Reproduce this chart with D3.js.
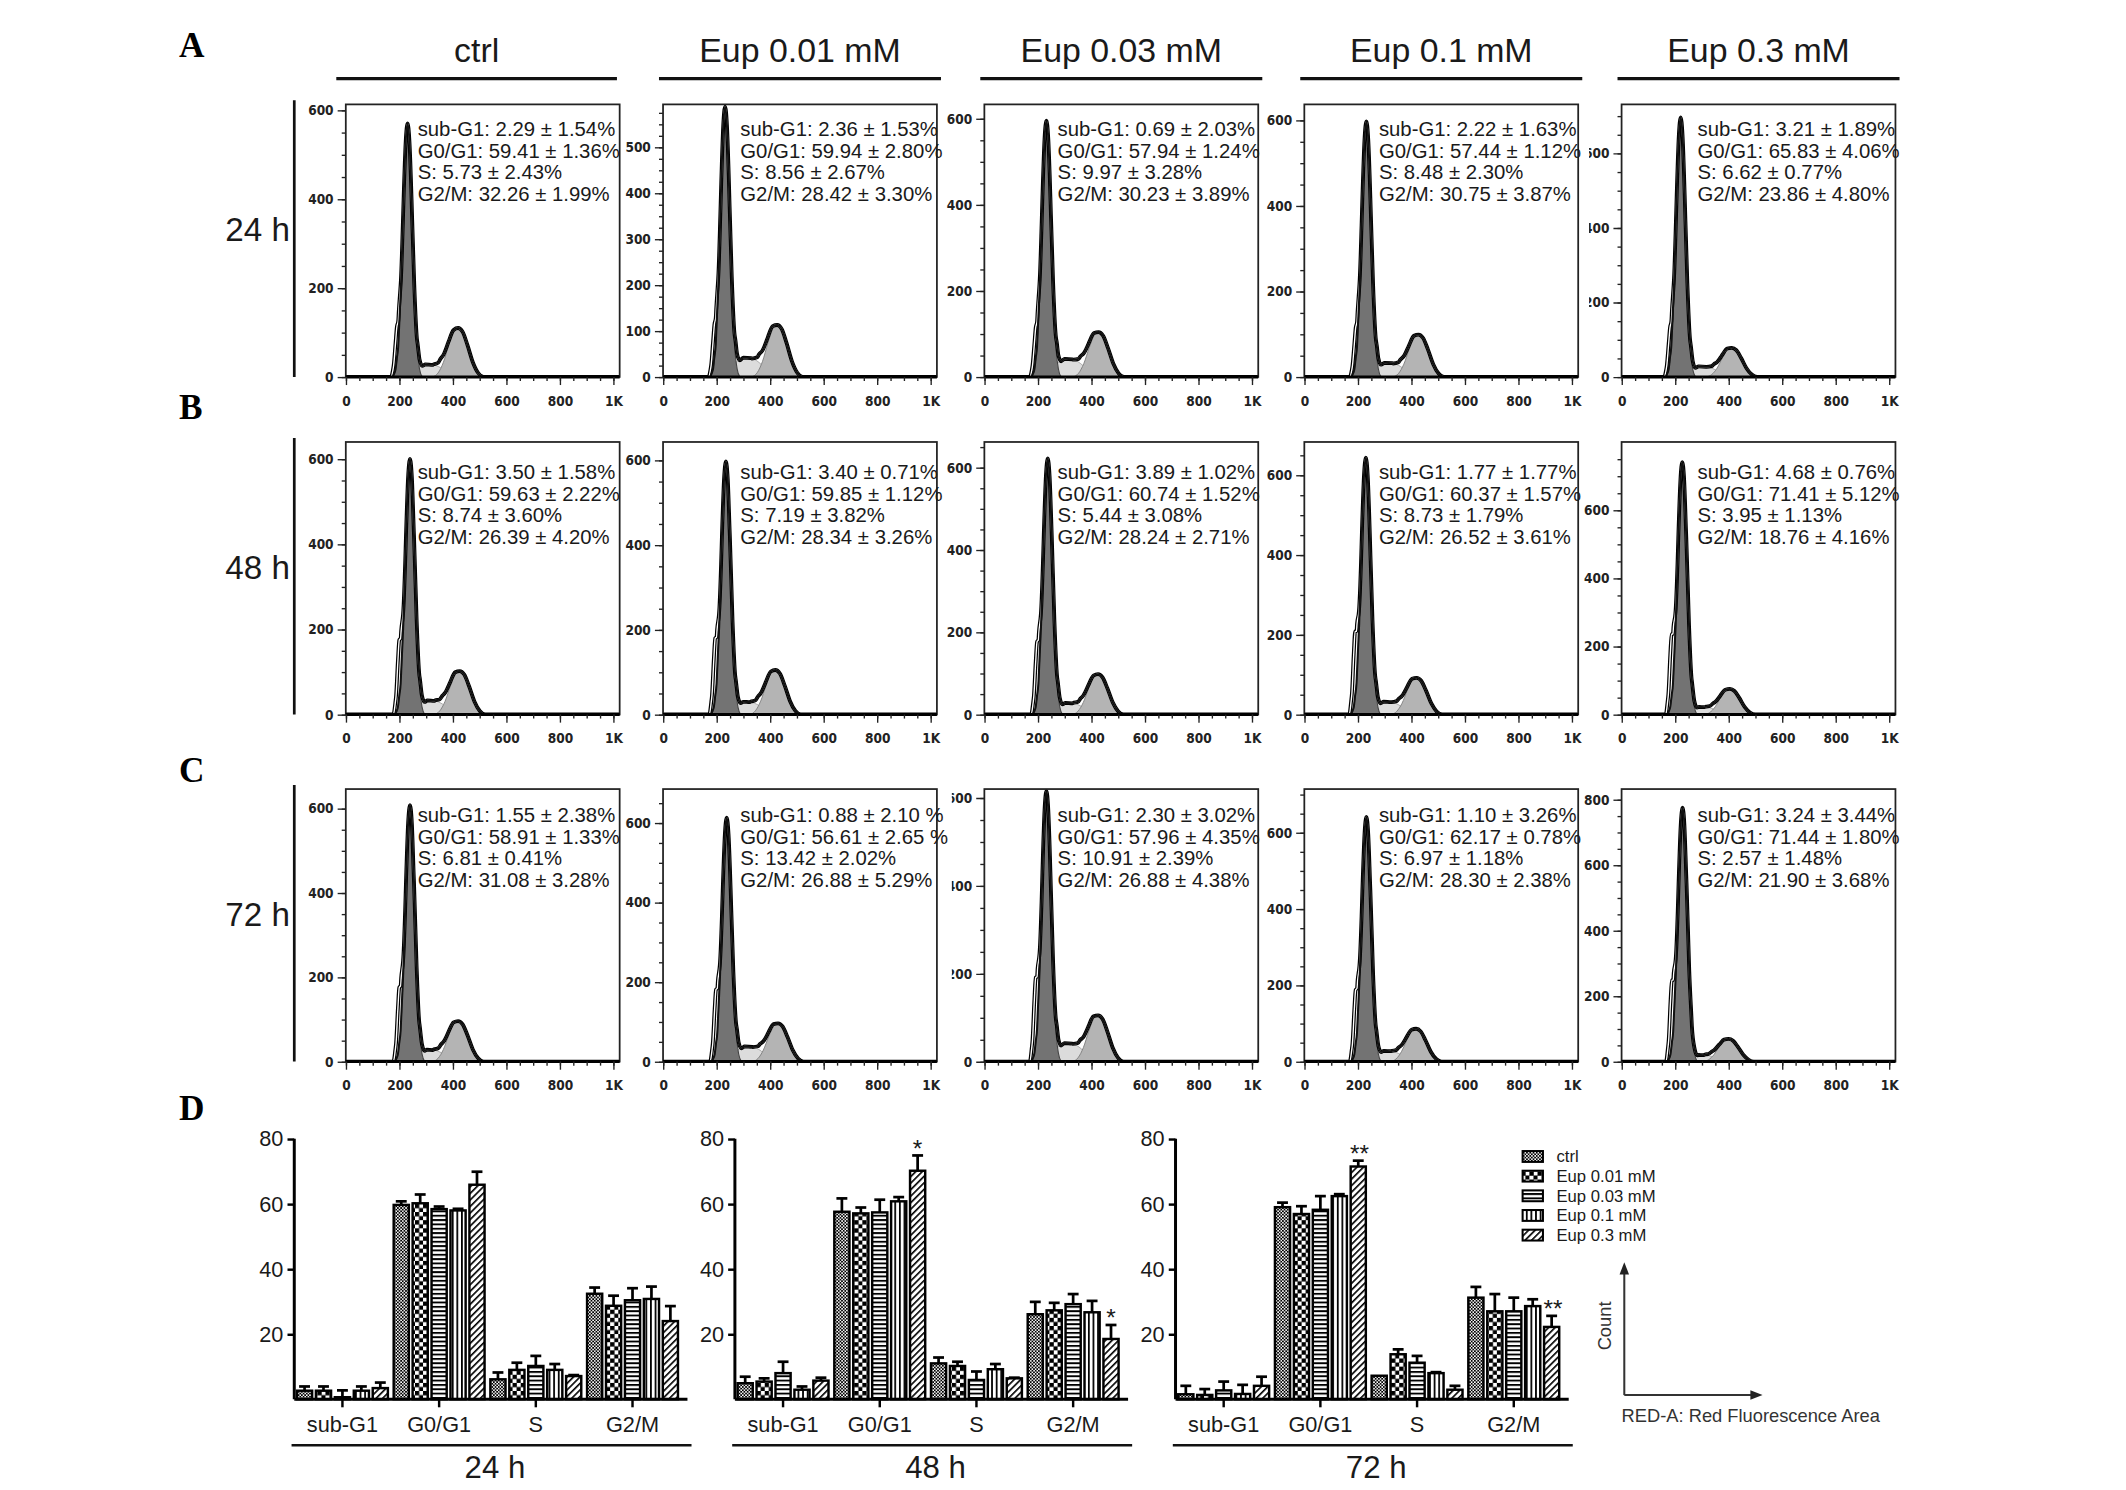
<!DOCTYPE html>
<html><head><meta charset="utf-8">
<script src="https://cdn.jsdelivr.net/npm/d3@7"></script>
<style>html,body{margin:0;padding:0;background:#fff;} svg{display:block}</style>
</head><body>
<svg id="chart" width="2126" height="1490" viewBox="0 0 1568 1099"></svg>
<script>
// ---------------- DATA ----------------
const treatments = ["ctrl", "Eup 0.01 mM", "Eup 0.03 mM", "Eup 0.1 mM", "Eup 0.3 mM"];
const times = ["24 h", "48 h", "72 h"];
const phases = ["sub-G1", "G0/G1", "S", "G2/M"];
const panelLetters = ["A", "B", "C", "D"];

// histogram annotation lines [time][treatment]
const annotations = [
  [["sub-G1: 2.29 ± 1.54%","G0/G1: 59.41 ± 1.36%","S: 5.73 ± 2.43%","G2/M: 32.26 ± 1.99%"],
   ["sub-G1: 2.36 ± 1.53%","G0/G1: 59.94 ± 2.80%","S: 8.56 ± 2.67%","G2/M: 28.42 ± 3.30%"],
   ["sub-G1: 0.69 ± 2.03%","G0/G1: 57.94 ± 1.24%","S: 9.97 ± 3.28%","G2/M: 30.23 ± 3.89%"],
   ["sub-G1: 2.22 ± 1.63%","G0/G1: 57.44 ± 1.12%","S: 8.48 ± 2.30%","G2/M: 30.75 ± 3.87%"],
   ["sub-G1: 3.21 ± 1.89%","G0/G1: 65.83 ± 4.06%","S: 6.62 ± 0.77%","G2/M: 23.86 ± 4.80%"]],
  [["sub-G1: 3.50 ± 1.58%","G0/G1: 59.63 ± 2.22%","S: 8.74 ± 3.60%","G2/M: 26.39 ± 4.20%"],
   ["sub-G1: 3.40 ± 0.71%","G0/G1: 59.85 ± 1.12%","S: 7.19 ± 3.82%","G2/M: 28.34 ± 3.26%"],
   ["sub-G1: 3.89 ± 1.02%","G0/G1: 60.74 ± 1.52%","S: 5.44 ± 3.08%","G2/M: 28.24 ± 2.71%"],
   ["sub-G1: 1.77 ± 1.77%","G0/G1: 60.37 ± 1.57%","S: 8.73 ± 1.79%","G2/M: 26.52 ± 3.61%"],
   ["sub-G1: 4.68 ± 0.76%","G0/G1: 71.41 ± 5.12%","S: 3.95 ± 1.13%","G2/M: 18.76 ± 4.16%"]],
  [["sub-G1: 1.55 ± 2.38%","G0/G1: 58.91 ± 1.33%","S: 6.81 ± 0.41%","G2/M: 31.08 ± 3.28%"],
   ["sub-G1: 0.88 ± 2.10 %","G0/G1: 56.61 ± 2.65 %","S: 13.42 ± 2.02%","G2/M: 26.88 ± 5.29%"],
   ["sub-G1: 2.30 ± 3.02%","G0/G1: 57.96 ± 4.35%","S: 10.91 ± 2.39%","G2/M: 26.88 ± 4.38%"],
   ["sub-G1: 1.10 ± 3.26%","G0/G1: 62.17 ± 0.78%","S: 6.97 ± 1.18%","G2/M: 28.30 ± 2.38%"],
   ["sub-G1: 3.24 ± 3.44%","G0/G1: 71.44 ± 1.80%","S: 2.57 ± 1.48%","G2/M: 21.90 ± 3.68%"]]
];

// histogram readings [time][treatment]
const histYMax      = [[613,593,633,637,731],[640,643,662,683,800],[646,685,620,714,832]];
const histYStep     = [[200,100,200,200,200],[200,200,200,200,200],[200,200,200,200,200]];
const g1Center      = [[231,232,232,232,221],[240,235,237,230,227],[240,238,232,232,228]];
const g1Height      = [[570,588,595,597,696],[600,597,622,644,741],[608,613,616,641,775]];
const g2Center      = [[420,427,427,427,412],[426,420,425,420,405],[420,430,425,418,400]];
const g2Height      = [[110,113,104,99,78],[102,105,98,92,75],[96,96,105,86,69]];
const sHeight       = [[28,42,42,33,28],[33,30,28,32,22],[28,38,42,28,20]];
const shoulderHeight= [[70,70,70,70,80],[130,135,130,160,180],[130,135,145,140,190]];
const histXTicks = [0, 200, 400, 600, 800, 1000];

// component shapes (offset, relative count)
const g1Profile = [[-55,0],[-45,0.03],[-35,0.12],[-25,0.35],[-15,0.7],[-7,0.93],[0,1],[7,0.93],[15,0.7],[25,0.35],[35,0.12],[45,0.03],[55,0]];
const g2Profile = [[-95,0],[-75,0.08],[-55,0.3],[-35,0.65],[-17,0.92],[0,1],[17,0.92],[35,0.65],[55,0.3],[75,0.08],[95,0]];
const sProfile  = [[0.08,0],[0.2,0.7],[0.35,1],[0.5,0.97],[0.65,0.75],[0.8,0.35],[1.0,0]];
const shoulderProfile = [[-62,0],[-52,0.3],[-45,0.85],[-40,1],[-33,0.75],[-26,0.3],[-18,0]];

// bar chart values [time][phase][treatment]
const barValues = [
  [[2.6,2.6,0.6,2.6,3.4],[59.7,60.2,58.4,58.0,65.9],[6.1,9.0,10.2,9.0,7.1],[32.4,28.7,30.4,30.8,24.0]],
  [[4.9,5.4,8.0,2.9,5.7],[57.6,57.1,57.4,60.8,70.2],[11.0,10.2,5.9,9.2,6.4],[26.1,27.3,29.2,26.7,18.5]],
  [[1.5,1.3,2.7,1.6,4.1],[59.0,56.9,58.2,62.4,71.5],[7.2,13.8,11.2,8.0,2.9],[31.2,27.0,27.0,28.6,22.2]]
];
const barErrors = [
  [[1.3,1.3,2.1,1.3,1.7],[1.1,2.7,0.8,0.5,4.0],[2.1,2.2,3.1,1.8,0.3],[1.9,3.1,3.7,3.8,4.6]],
  [[2.0,1.0,3.5,1.0,0.9],[4.1,1.8,3.9,1.3,4.7],[1.8,1.3,2.6,1.6,0.2],[3.8,2.3,3.1,3.5,4.3]],
  [[2.6,1.8,2.7,2.8,2.8],[1.4,2.4,4.2,0.6,1.8],[0.0,1.5,2.1,0.3,1.2],[3.3,5.3,4.2,2.1,3.4]]
];
const barYTicks = [20, 40, 60, 80];
const significance = [
  {time:1, phase:1, treat:4, label:"*"},
  {time:1, phase:3, treat:4, label:"*"},
  {time:2, phase:1, treat:4, label:"**"},
  {time:2, phase:3, treat:4, label:"**"}
];
const axisLabelCount = "Count";
const axisLabelRed = "RED-A: Red Fluorescence Area";

// ---------------- LAYOUT / STYLE ----------------
const FONT = "'Liberation Sans', Arial, Helvetica, sans-serif";
const NARROW = "'Liberation Sans Narrow', 'DejaVu Sans Condensed', 'Liberation Sans', Arial, sans-serif";
const SERIF = "'Liberation Serif', 'Times New Roman', serif";
const TXT = "#1a1a1a";

const colLeft = [255, 489, 726, 962, 1196];
const rowTop = [77, 326, 582];
const panelW = 202, panelH = 201;
const textDx = [53, 57, 54, 55, 56];
const textDy = [18, 22, 19];
const clipLabels = {"0-4": true, "2-2": true};

const svg = d3.select("#chart");
const defs = svg.append("defs");

// bar patterns
function pattern(id, w, h, build, transform) {
  const p = defs.append("pattern").attr("id", id).attr("patternUnits", "userSpaceOnUse")
    .attr("width", w).attr("height", h);
  if (transform) p.attr("patternTransform", transform);
  p.append("rect").attr("width", w).attr("height", h).attr("fill", "#fff");
  build(p);
}
pattern("pat0", 2.4, 2.4, p => {
  p.append("rect").attr("width", 1.3).attr("height", 1.3).attr("fill", "#000");
  p.append("rect").attr("x", 1.2).attr("y", 1.2).attr("width", 1.3).attr("height", 1.3).attr("fill", "#000");
});
pattern("pat1", 6, 6, p => {
  p.append("rect").attr("width", 3.2).attr("height", 3.2).attr("fill", "#000");
  p.append("rect").attr("x", 3).attr("y", 3).attr("width", 3.2).attr("height", 3.2).attr("fill", "#000");
});
pattern("pat2", 3.2, 3.2, p => {
  p.append("rect").attr("width", 3.2).attr("height", 1.4).attr("fill", "#000");
});
pattern("pat3", 3.4, 3.4, p => {
  p.append("rect").attr("width", 1.3).attr("height", 3.4).attr("fill", "#000");
});
pattern("pat4", 3.4, 3.4, p => {
  p.append("rect").attr("width", 1.2).attr("height", 3.4).attr("fill", "#000");
}, "rotate(45)");
const patIds = ["pat0", "pat1", "pat2", "pat3", "pat4"];

// ---------------- PANEL LETTERS ----------------
const letterY = [42, 309, 577, 826];
panelLetters.forEach((l, i) => {
  svg.append("text").attr("x", 132).attr("y", letterY[i]).text(l)
    .attr("font-family", SERIF).attr("font-weight", "bold").attr("font-size", 26).attr("fill", "#000");
});

// ---------------- COLUMN HEADERS ----------------
treatments.forEach((t, c) => {
  const x0 = colLeft[c] - (c === 0 ? 7 : 3), x1 = colLeft[c] + (c === 0 ? 200 : 205);
  svg.append("line").attr("x1", x0).attr("x2", x1).attr("y1", 58).attr("y2", 58)
    .attr("stroke", "#111").attr("stroke-width", 2.4);
  svg.append("text").attr("x", (x0 + x1) / 2).attr("y", 46).attr("text-anchor", "middle")
    .attr("font-family", FONT).attr("font-size", 25).attr("fill", TXT).text(t);
});

// ---------------- ROW LABELS ----------------
times.forEach((t, r) => {
  svg.append("line").attr("x1", 217).attr("x2", 217).attr("y1", rowTop[r] - 3).attr("y2", rowTop[r] + panelH)
    .attr("stroke", "#111").attr("stroke-width", 2);
  svg.append("text").attr("x", 190).attr("y", rowTop[r] + 101).attr("text-anchor", "middle")
    .attr("font-family", FONT).attr("font-size", 24.5).attr("fill", TXT).text(t);
});

// ---------------- HISTOGRAMS ----------------
function interp(pts, xv) {
  if (xv <= pts[0][0] || xv >= pts[pts.length - 1][0]) return 0;
  for (let i = 1; i < pts.length; i++) {
    if (xv <= pts[i][0]) {
      const [x0, y0] = pts[i - 1], [x1, y1] = pts[i];
      return y0 + (y1 - y0) * (xv - x0) / (x1 - x0);
    }
  }
  return 0;
}

for (let r = 0; r < 3; r++) {
  for (let c = 0; c < 5; c++) {
    const g = svg.append("g").attr("transform", `translate(${colLeft[c]},${rowTop[r]})`);
    const x = d3.scaleLinear().domain([0, 1024]).range([0, panelW]);
    const yMax = histYMax[r][c];
    const y = d3.scaleLinear().domain([0, yMax]).range([panelH, 0]);

    const g1c = g1Center[r][c], g2c = g2Center[r][c];
    const g1pts = g1Profile.map(([d, v]) => [g1c + d, v * g1Height[r][c]]);
    const g2pts = g2Profile.map(([d, v]) => [g2c + d, v * g2Height[r][c]]);
    const spts = sProfile.map(([t, v]) => [g1c + t * (g2c - g1c), v * sHeight[r][c]]);
    const shpts = shoulderProfile.map(([d, v]) => [g1c + d, v * shoulderHeight[r][c]]);

    const knots = Array.from(new Set([0, 1024, ...g1pts, ...g2pts, ...spts, ...shpts]
      .map(p => Array.isArray(p) ? p[0] : p).map(v => Math.round(v * 10) / 10))).sort((a, b) => a - b);
    const fit = knots.map(k => [k, interp(g1pts, k) + interp(g2pts, k) + interp(spts, k)]);
    const dataLine = knots.map((k, i) => [k, fit[i][1] + interp(shpts, k)]);

    const clipId = `clip-${r}-${c}`;
    defs.append("clipPath").attr("id", clipId).append("rect")
      .attr("x", 0).attr("y", 0).attr("width", panelW).attr("height", panelH);
    const plot = g.append("g").attr("clip-path", `url(#${clipId})`);

    const area = d3.area().x(d => x(d[0])).y0(y(0)).y1(d => y(d[1])).curve(d3.curveMonotoneX);
    const line = d3.line().x(d => x(d[0])).y(d => y(d[1])).curve(d3.curveMonotoneX);

    plot.append("path").attr("d", area(spts)).attr("fill", "#dcdcdc").attr("stroke", "#a0a0a0").attr("stroke-width", 0.6);
    plot.append("path").attr("d", area(g2pts)).attr("fill", "#b4b4b4").attr("stroke", "#808080").attr("stroke-width", 0.7);
    plot.append("path").attr("d", area(g1pts)).attr("fill", "#737373").attr("stroke", "#444").attr("stroke-width", 0.8);
    plot.append("path").attr("d", line(dataLine)).attr("fill", "none").attr("stroke", "#000").attr("stroke-width", 2.8);
    plot.append("path").attr("d", line(dataLine)).attr("fill", "none").attr("stroke", "#fff").attr("stroke-width", 1);
    plot.append("path").attr("d", line(fit)).attr("fill", "none").attr("stroke", "#111").attr("stroke-width", 1.5);

    // frame
    g.append("rect").attr("width", panelW).attr("height", panelH).attr("fill", "none")
      .attr("stroke", "#222").attr("stroke-width", 1.3);
    g.append("line").attr("x1", 0).attr("x2", panelW).attr("y1", panelH).attr("y2", panelH)
      .attr("stroke", "#000").attr("stroke-width", 2.2);

    // y axis
    const step = histYStep[r][c];
    const yMinor = g.append("g").call(d3.axisLeft(y).tickValues(d3.range(0, yMax, step / 4)).tickSize(3).tickFormat(""));
    const yAx = g.append("g").call(d3.axisLeft(y).tickValues(d3.range(0, yMax, step)).tickSize(6).tickPadding(3).tickFormat(d3.format("d")));
    // x axis
    const xMinor = g.append("g").attr("transform", `translate(0,${panelH})`)
      .call(d3.axisBottom(x).tickValues(d3.range(0, 1024, 50)).tickSize(3).tickFormat(""));
    const xAx = g.append("g").attr("transform", `translate(0,${panelH})`)
      .call(d3.axisBottom(x).tickValues(histXTicks).tickSize(6).tickPadding(8)
        .tickFormat(d => d === 1000 ? "1K" : d));
    [yMinor, yAx, xMinor, xAx].forEach(a => {
      a.select(".domain").remove();
      a.selectAll(".tick line").attr("stroke", "#222").attr("stroke-width", 1);
      a.selectAll("text").attr("font-family", NARROW).attr("font-weight", "bold").attr("font-size", 10).attr("fill", "#222");
    });
    if (clipLabels[`${r}-${c}`]) {
      const lid = `lclip-${r}-${c}`;
      defs.append("clipPath").attr("id", lid).append("rect")
        .attr("x", -24).attr("y", -20).attr("width", 40).attr("height", panelH + 40);
      yAx.attr("clip-path", `url(#${lid})`);
    }

    // annotation text
    annotations[r][c].forEach((s, i) => {
      g.append("text").attr("x", textDx[c]).attr("y", textDy[r] + 5.3 + i * 16)
        .attr("font-family", FONT).attr("font-size", 15).attr("fill", TXT).text(s);
    });
  }
}

// ---------------- BAR CHARTS (D) ----------------
const barAxisX = [217, 542, 867];
const yBar = d3.scaleLinear().domain([0, 80]).range([1032, 840]);

times.forEach((t, ti) => {
  const ax = barAxisX[ti];
  const gScale = d3.scaleBand().domain(phases).range([ax + 2, ax + 283]).paddingInner(0.06);
  const inner = d3.scaleBand().domain(d3.range(treatments.length)).range([0, gScale.bandwidth()]).paddingInner(0.2);
  const g = svg.append("g");

  phases.forEach((ph, pi) => {
    treatments.forEach((tr, k) => {
      const v = barValues[ti][pi][k], e = barErrors[ti][pi][k];
      const bx = gScale(ph) + inner(k), bw = inner.bandwidth();
      const cx = bx + bw / 2;
      if (e > 0) {
        g.append("line").attr("x1", cx).attr("x2", cx).attr("y1", yBar(v)).attr("y2", yBar(v + e))
          .attr("stroke", "#000").attr("stroke-width", 2);
        g.append("line").attr("x1", cx - bw * 0.36).attr("x2", cx + bw * 0.36).attr("y1", yBar(v + e)).attr("y2", yBar(v + e))
          .attr("stroke", "#000").attr("stroke-width", 2);
      }
      g.append("rect").attr("x", bx).attr("y", yBar(v)).attr("width", bw).attr("height", yBar(0) - yBar(v))
        .attr("fill", `url(#${patIds[k]})`).attr("stroke", "#000").attr("stroke-width", 1.8);
    });
  });

  significance.filter(s => s.time === ti).forEach(s => {
    const v = barValues[ti][s.phase][s.treat] + barErrors[ti][s.phase][s.treat];
    const cx = gScale(phases[s.phase]) + inner(s.treat) + inner.bandwidth() / 2 + (s.label.length > 1 ? 1 : 0);
    g.append("text").attr("x", cx).attr("y", yBar(v) + 1).attr("text-anchor", "middle")
      .attr("font-family", FONT).attr("font-size", 18).attr("fill", TXT).text(s.label);
  });

  // axes
  g.append("line").attr("x1", ax).attr("x2", ax + 290).attr("y1", yBar(0)).attr("y2", yBar(0))
    .attr("stroke", "#000").attr("stroke-width", 2.2);
  const yA = g.append("g").attr("transform", `translate(${ax},0)`)
    .call(d3.axisLeft(yBar).tickValues(barYTicks).tickSize(5).tickPadding(3).tickSizeOuter(0));
  yA.select(".domain").attr("stroke", "#000").attr("stroke-width", 2.2).attr("d", `M0,${yBar(0)}V${yBar(80)}`);
  yA.selectAll(".tick line").attr("stroke", "#000").attr("stroke-width", 1.8);
  yA.selectAll("text").attr("font-family", FONT).attr("font-size", 16).attr("fill", TXT);

  phases.forEach(ph => {
    const cx = gScale(ph) + gScale.bandwidth() / 2;
    g.append("line").attr("x1", cx).attr("x2", cx).attr("y1", yBar(0)).attr("y2", yBar(0) + 6)
      .attr("stroke", "#000").attr("stroke-width", 1.8);
    g.append("text").attr("x", cx).attr("y", 1056).attr("text-anchor", "middle")
      .attr("font-family", FONT).attr("font-size", 16).attr("fill", TXT).text(ph);
  });
  g.append("line").attr("x1", ax - 2).attr("x2", ax + 293).attr("y1", 1066).attr("y2", 1066)
    .attr("stroke", "#111").attr("stroke-width", 2);
  g.append("text").attr("x", ax + 148).attr("y", 1090).attr("text-anchor", "middle")
    .attr("font-family", FONT).attr("font-size", 23).attr("fill", TXT).text(t);
});

// legend
treatments.forEach((tr, k) => {
  const cy = 853 + k * 14.5;
  svg.append("rect").attr("x", 1123).attr("y", cy - 4).attr("width", 15).attr("height", 8)
    .attr("fill", `url(#${patIds[k]})`).attr("stroke", "#000").attr("stroke-width", 1.5);
  svg.append("text").attr("x", 1148).attr("y", cy + 4.4).attr("font-family", FONT).attr("font-size", 12.3)
    .attr("fill", TXT).text(tr);
});

// axis key arrows
const key = svg.append("g").attr("stroke", "#333").attr("stroke-width", 1.5).attr("fill", "none");
key.append("path").attr("d", "M1198,1029 V938");
key.append("path").attr("d", "M1198,1029 H1293");
svg.append("path").attr("d", "M1198,931 L1194.5,940 L1201.5,940 Z").attr("fill", "#222");
svg.append("path").attr("d", "M1300,1029 L1291,1025.5 L1291,1032.5 Z").attr("fill", "#222");
svg.append("text").attr("transform", "translate(1188,978) rotate(-90)").attr("text-anchor", "middle")
  .attr("font-family", FONT).attr("font-size", 13.5).attr("fill", "#333").text(axisLabelCount);
svg.append("text").attr("x", 1196).attr("y", 1048.6).attr("font-family", FONT).attr("font-size", 13.5)
  .attr("fill", "#333").text(axisLabelRed);
</script>
</body></html>
